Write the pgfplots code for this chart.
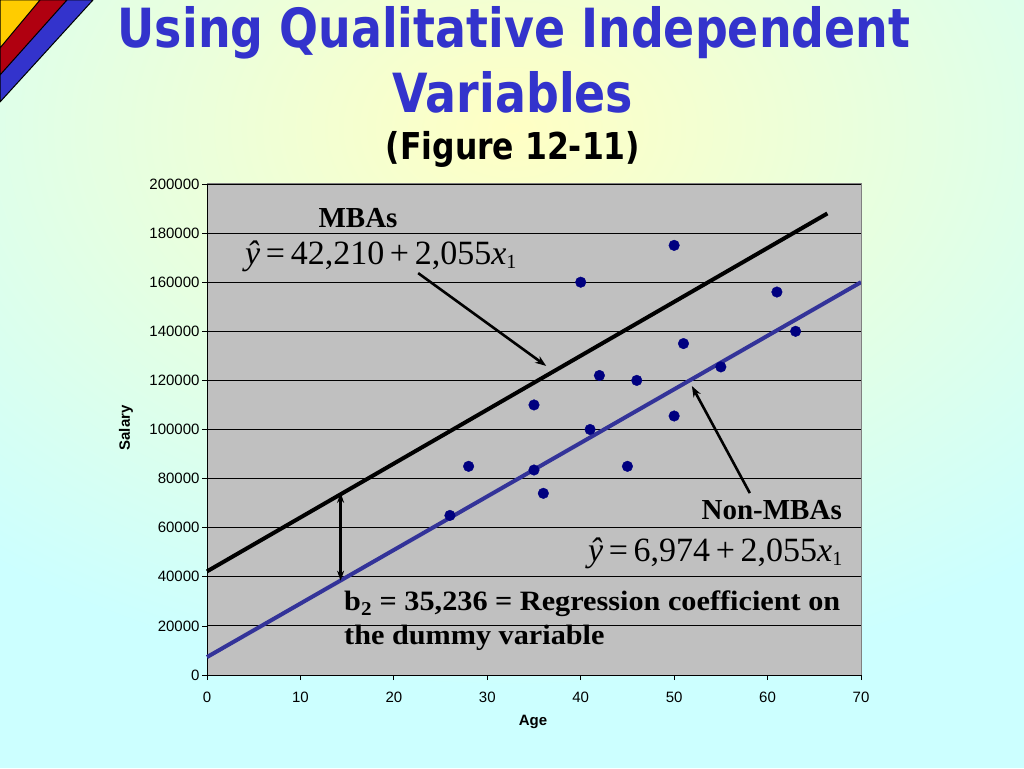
\documentclass[border=0pt]{standalone}
\usepackage{fontspec}
\setmainfont{Liberation Sans}
\newfontfamily\seriffont{Liberation Serif}
\newfontfamily\bookfont[FakeStretch=1.08]{Liberation Serif}
\newfontfamily\titlefont[FakeStretch=0.85]{DejaVu Sans Bold}
\usepackage{pgfplots}
\pgfplotsset{compat=1.18}
\usetikzlibrary{arrows.meta}
\definecolor{slidecyan}{RGB}{204,255,255}
\definecolor{slideyellow}{RGB}{255,255,196}
\definecolor{titleblue}{RGB}{51,51,204}
\definecolor{cornerred}{RGB}{176,0,16}
\definecolor{corneryellow}{RGB}{255,204,0}
\definecolor{plotgrey}{RGB}{192,192,192}
\definecolor{dotblue}{RGB}{0,0,128}
\definecolor{lineblue}{RGB}{51,51,153}
\begin{document}
\begin{tikzpicture}[x=1pt,y=1pt]
  \clip (0,0) rectangle (1024,768);
  % slide background
  \fill[slidecyan] (0,0) rectangle (1024,768);
  \shade[inner color=slideyellow, outer color=slidecyan] (512,640) ellipse [x radius=820, y radius=560];
  % corner bands
  \filldraw[fill=titleblue, draw=black, line width=1pt] (0,768) -- (93,768) -- (0,666) -- cycle;
  \filldraw[fill=cornerred, draw=black, line width=1pt] (0,768) -- (67,768) -- (0,693) -- cycle;
  \filldraw[fill=corneryellow, draw=black, line width=1pt] (0,768) -- (40,768) -- (0,720) -- cycle;
  % title
  \node[anchor=base, inner sep=0pt, text=titleblue, font=\titlefont\fontsize{54}{60}\selectfont] at (514,720)
    {Using Qualitative Independent};
  \node[anchor=base, inner sep=0pt, text=titleblue, font=\titlefont\fontsize{54}{60}\selectfont] at (513,655)
    {Variables};
  \node[anchor=base, inner sep=0pt, text=black, font=\titlefont\fontsize{37}{40}\selectfont] at (513,608)
    {(Figure 12-11)};

  \begin{axis}[
    at={(207pt,93pt)}, anchor=south west,
    scale only axis, width=654pt, height=491pt,
    xmin=0, xmax=70, ymin=0, ymax=200000,
    xtick={0,10,...,70}, ytick={0,20000,...,200000},
    xticklabels={0,10,20,30,40,50,60,70},
    yticklabels={0,20000,40000,60000,80000,100000,120000,140000,160000,180000,200000},
    scaled y ticks=false,
    tick label style={font=\fontsize{15}{17}\selectfont},
    x tick label style={yshift=-8pt},
    y tick label style={xshift=1pt},
    axis lines=left, axis line style={-, black, line width=1pt},
    tick align=outside, major tick length=5pt,
    tick style={black, line width=0.8pt},
    ymajorgrids, grid style={black, line width=0.9pt},
    axis background/.style={fill=plotgrey},
    clip=false,
  ]
    % regression lines
    \addplot[black, line width=4pt, no marks] coordinates {(0,42210) (66.4,188000)};
    \addplot[lineblue, line width=4pt, no marks] coordinates {(0,7300) (70,160000)};
    % data points
    \addplot[only marks, mark=*, mark size=5.3pt, mark options={fill=dotblue, draw=dotblue}] coordinates {
      (26,65000) (28,85000) (35,110000) (35,83500) (36,74000)
      (40,160000) (41,100000) (42,122000) (45,85000) (46,120000)
      (50,175000) (50,105500) (51,135000) (55,125500) (61,156000)
      (63,140000)};
    % plot area border (top and right)
    \draw[gray, line width=1pt] (rel axis cs:0,1) -- (rel axis cs:1,1) -- (rel axis cs:1,0);
    % annotation arrows
    \draw[-{Stealth[length=11pt,width=8pt]}, line width=2.6pt] (axis cs:22.6,163700) -- (axis cs:36.3,125900);
    \draw[-{Stealth[length=11pt,width=8pt]}, line width=2.6pt] (axis cs:58.1,74100) -- (axis cs:51.9,117700);
    \draw[{Stealth[length=10pt,width=7pt]}-{Stealth[length=10pt,width=7pt]}, line width=2.4pt] (axis cs:14.3,74200) -- (axis cs:14.3,38400);
  \end{axis}

  % axis labels
  \node[font=\bfseries\fontsize{15}{17}\selectfont] at (533,46) {Age};
  \node[rotate=90, font=\bfseries\fontsize{15}{17}\selectfont] at (126,340) {Salary};

  % annotations
  \node[font=\seriffont\bfseries\fontsize{29}{34}\selectfont] at (358,550) {MBAs};
  \node[anchor=west, inner sep=0pt, font=\seriffont\fontsize{34}{40}\selectfont] at (245,512)
    {\textit{ŷ}\,=\,42,210\,+\,2,055\textit{x}\textsubscript{\fontsize{20}{24}\selectfont 1}};
  \node[anchor=east, inner sep=0pt, font=\seriffont\bfseries\fontsize{29}{34}\selectfont] at (842,258) {Non-MBAs};
  \node[anchor=east, inner sep=0pt, font=\seriffont\fontsize{34}{40}\selectfont] at (843,215)
    {\textit{ŷ}\,=\,6,974\,+\,2,055\textit{x}\textsubscript{\fontsize{20}{24}\selectfont 1}};
  \node[anchor=north west, inner sep=0pt, align=left, font=\bookfont\bfseries\fontsize{28}{34}\selectfont] at (344,177)
    {b\textsubscript{2} = 35,236 = Regression coefficient on\\the dummy variable};
\end{tikzpicture}
\end{document}
